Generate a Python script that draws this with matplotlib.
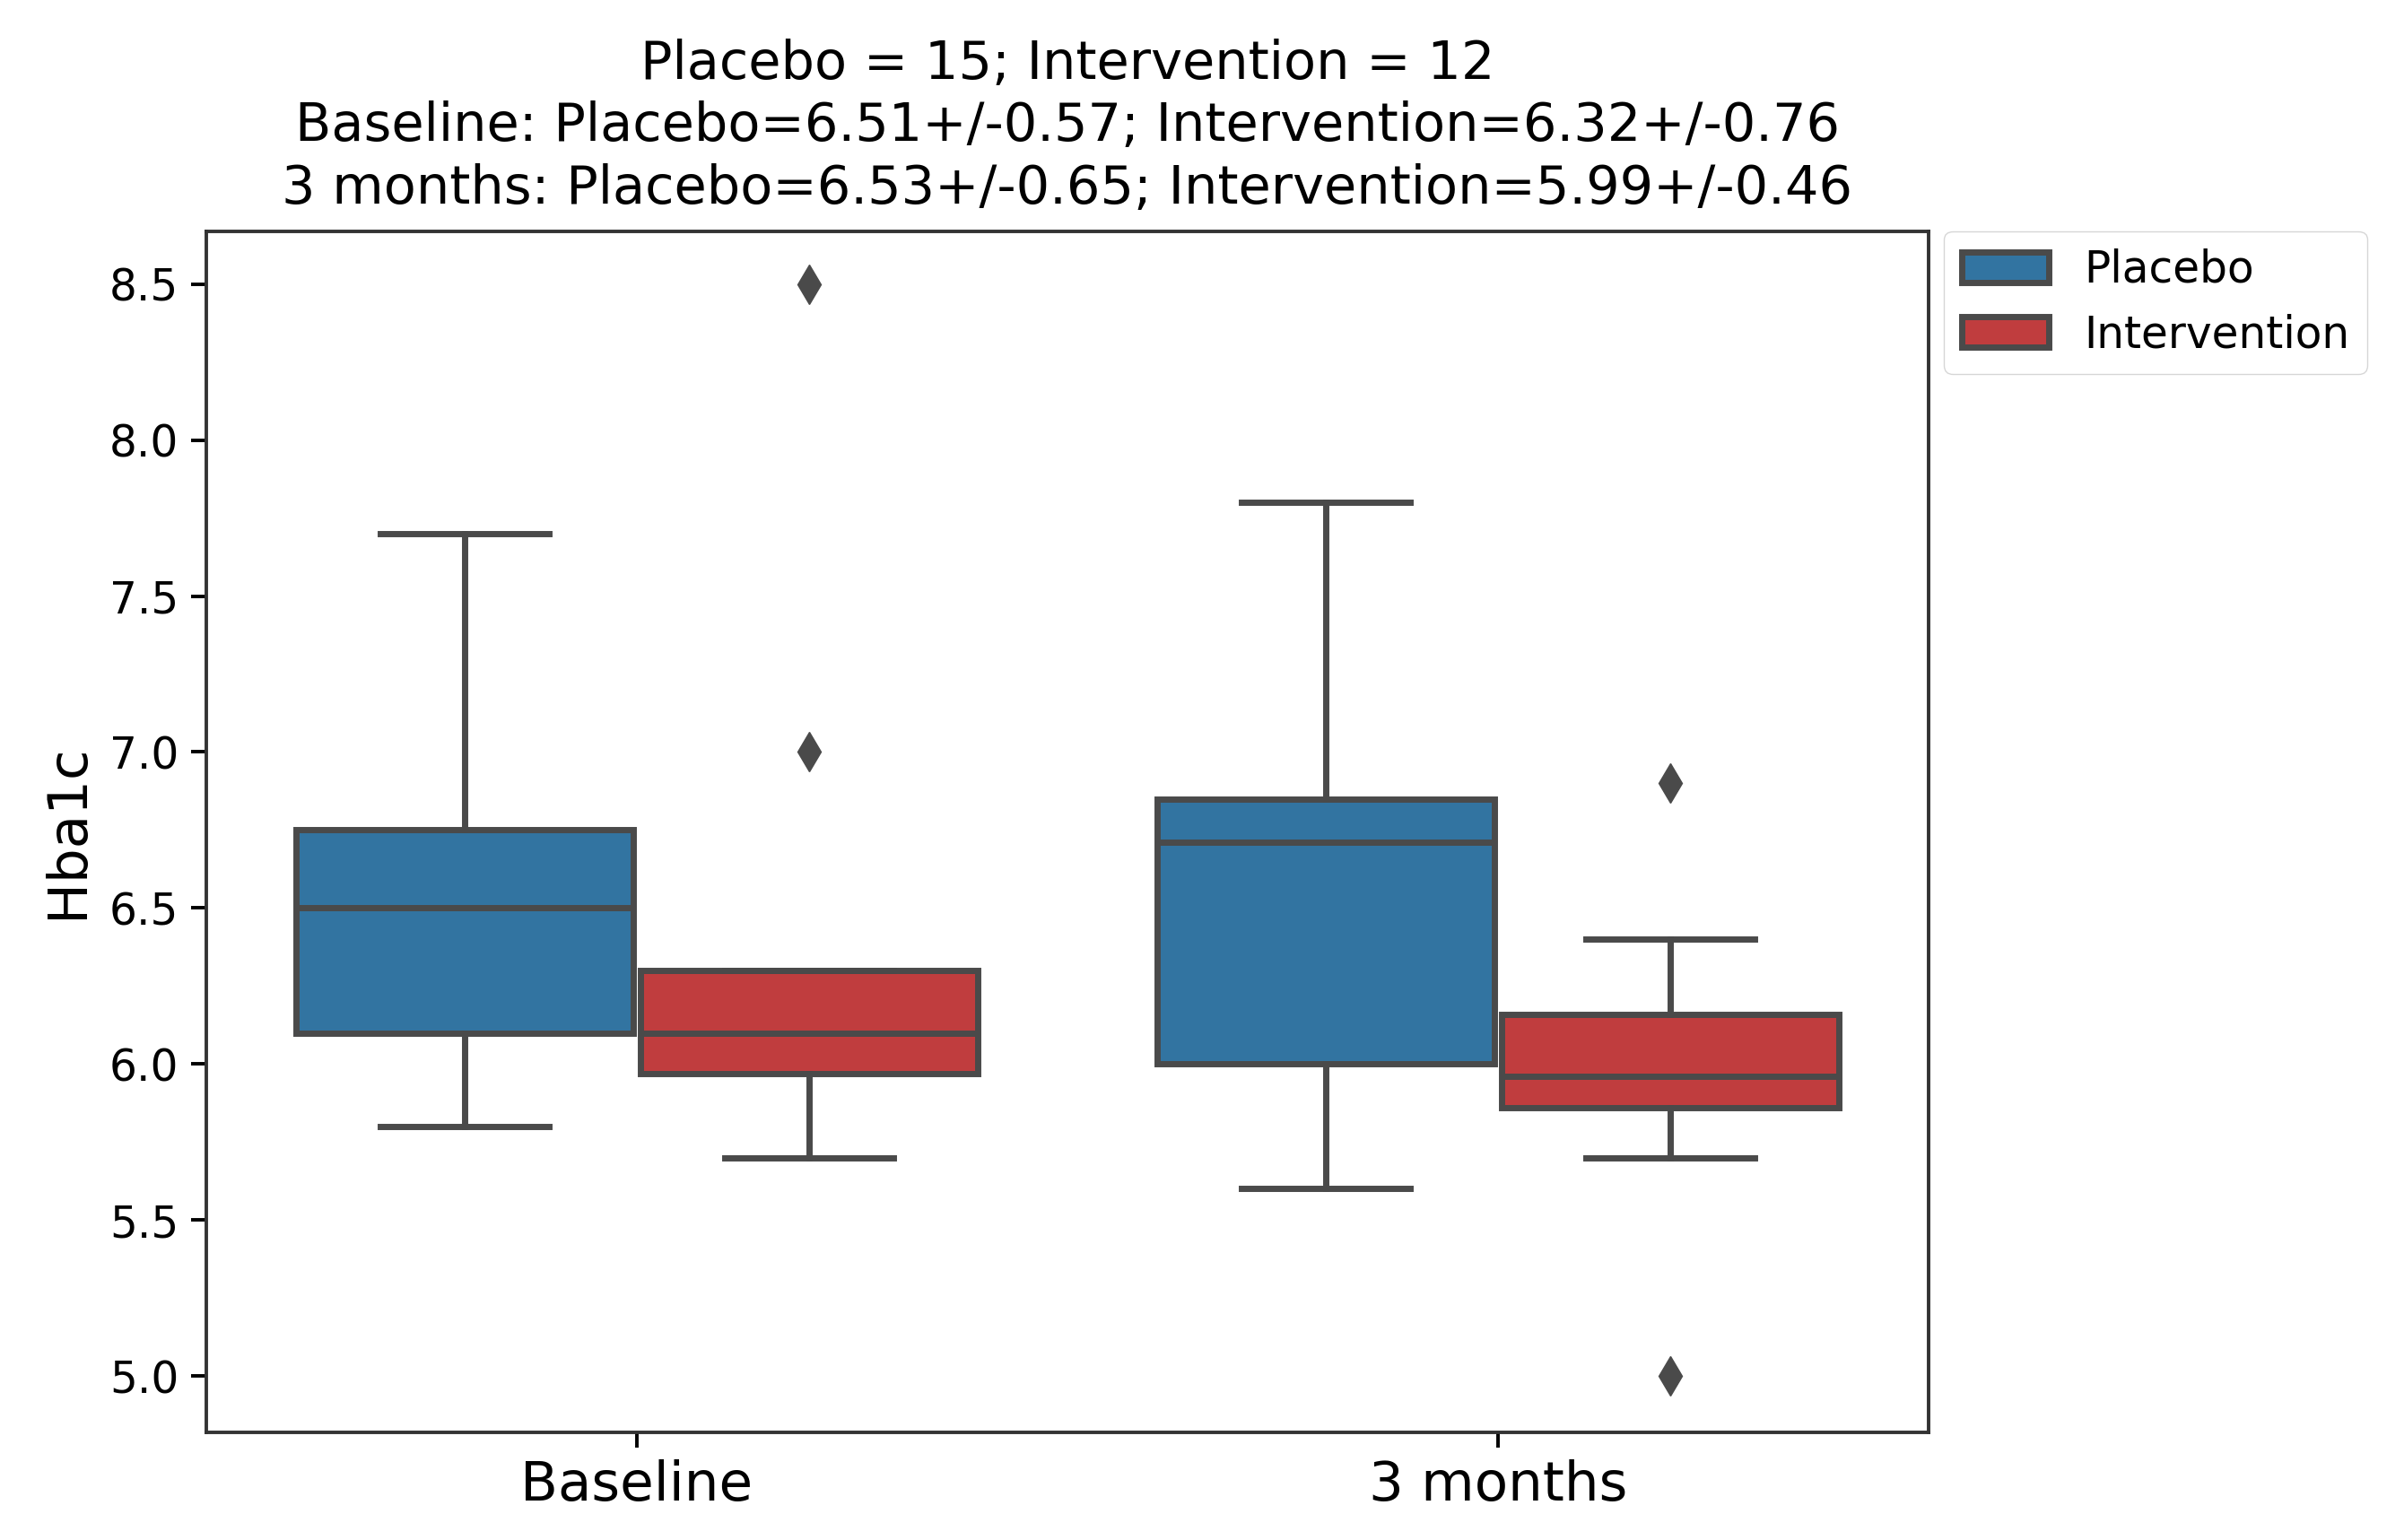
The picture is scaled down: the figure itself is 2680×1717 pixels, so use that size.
import matplotlib
matplotlib.use("Agg")
from matplotlib import pyplot as plt
from matplotlib.patches import Patch

# box statistics (Hba1c)
timepoints = ["Baseline", "3 months"]
groups = ["Placebo", "Intervention"]

placebo_whislo = [5.8, 5.6]
placebo_q1 = [6.1, 6.0]
placebo_med = [6.5, 6.71]
placebo_q3 = [6.75, 6.85]
placebo_whishi = [7.7, 7.8]
placebo_fliers = [[], []]

interv_whislo = [5.7, 5.7]
interv_q1 = [5.97, 5.86]
interv_med = [6.1, 5.96]
interv_q3 = [6.3, 6.16]
interv_whishi = [6.3, 6.4]
interv_fliers = [[7.0, 8.5], [6.9, 5.0]]

title = ("Placebo = 15; Intervention = 12\n"
         "Baseline: Placebo=6.51+/-0.57; Intervention=6.32+/-0.76\n"
         "3 months: Placebo=6.53+/-0.65; Intervention=5.99+/-0.46")

colors = ["#3274a1", "#c03d3e"]
gray = "#4a4a4a"


def make_stats(whislo, q1, med, q3, whishi, fliers):
    return [dict(whislo=a, q1=b, med=c, q3=d, whishi=e, fliers=f)
            for a, b, c, d, e, f in zip(whislo, q1, med, q3, whishi, fliers)]


stats = {
    "Placebo": make_stats(placebo_whislo, placebo_q1, placebo_med,
                          placebo_q3, placebo_whishi, placebo_fliers),
    "Intervention": make_stats(interv_whislo, interv_q1, interv_med,
                               interv_q3, interv_whishi, interv_fliers),
}

fig = plt.figure(figsize=(26.8, 17.17), dpi=100)
ax = fig.add_axes([0.0858, 0.07, 0.7165, 0.78])

lw = 5
offsets = [-0.2, 0.2]
width = 0.392
for g, off, col in zip(groups, offsets, colors):
    pos = [i + off for i in range(len(timepoints))]
    ax.bxp(stats[g], positions=pos, widths=width, patch_artist=True,
           manage_ticks=False,
           boxprops=dict(facecolor=col, edgecolor=gray, linewidth=lw),
           medianprops=dict(color=gray, linewidth=lw),
           whiskerprops=dict(color=gray, linewidth=lw),
           capprops=dict(color=gray, linewidth=lw),
           capwidths=width / 2,
           flierprops=dict(marker="d", markerfacecolor=gray, markeredgecolor=gray,
                           markersize=22, linestyle="none"))

ax.set_xlim(-0.5, 1.5)
ax.set_ylim(4.82, 8.67)
ax.set_xticks(range(len(timepoints)))
ax.set_xticklabels(timepoints, fontsize=44)
ax.set_yticks([5.0, 5.5, 6.0, 6.5, 7.0, 7.5, 8.0, 8.5])
ax.tick_params(axis="y", labelsize=35, length=12, width=2.8, pad=10)
ax.tick_params(axis="x", length=12, width=2.8, pad=10)
for s in ax.spines.values():
    s.set_linewidth(2.8)
    s.set_color("#333333")
ax.set_ylabel("Hba1c", fontsize=44, labelpad=12)
ax.set_title(title, fontsize=42.5, pad=22, linespacing=1.28)

handles = [Patch(facecolor=c, edgecolor=gray, linewidth=lw, label=g)
           for g, c in zip(groups, colors)]
ax.legend(handles=handles, loc="upper left", bbox_to_anchor=(1.009, 1.0),
          borderaxespad=0, fontsize=35, handlelength=2.0)

fig.savefig("out.png", dpi=100)
